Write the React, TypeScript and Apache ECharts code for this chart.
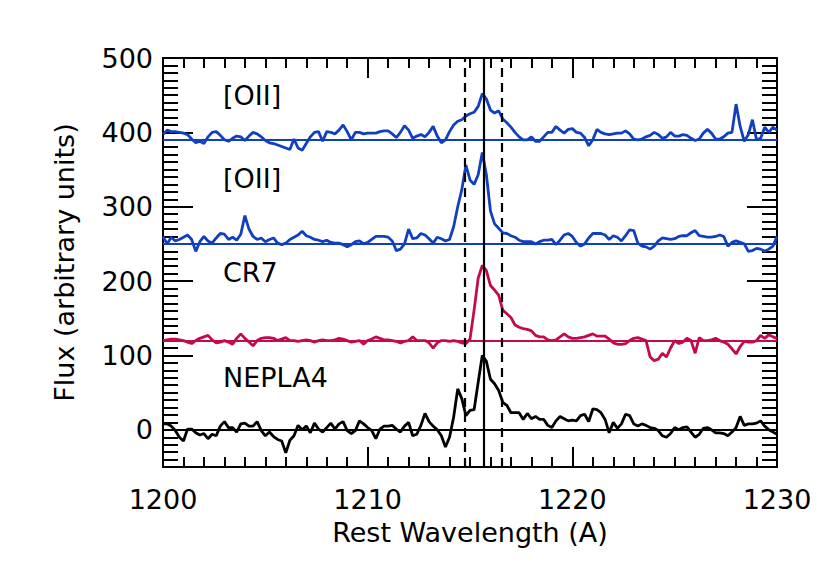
import React, { useEffect, useRef } from "react";
import * as echarts from "echarts";

// Wavelength sampling of the spectra (Angstrom)
const WL_START = 1200;
const WL_STEP = 0.2;

// Axis ticks
const X_MIN = 1200;
const X_MAX = 1230;
const Y_MIN = -50;
const Y_MAX = 500;
const Y_MAJOR = [0, 100, 200, 300, 400, 500];

// Baselines (continuum levels / offsets)
const BASE_OII_A = 390;
const BASE_OII_B = 250;
const BASE_CR7 = 120;
const BASE_NEPLA4 = 0;

// Reference lines (rest wavelength Ly-alpha and +/- window)
const LYA = 1215.67;
const WIN_LO = 1214.75;
const WIN_HI = 1216.55;

// Spectra (flux, arbitrary units), one value every WL_STEP from WL_START
const oiiA = [
  397, 403, 401, 401, 400, 399, 397, 391, 386, 388, 385, 394, 400, 401, 396, 390, 388, 392, 395, 394,
  389, 395, 400, 398, 394, 389, 386, 385, 383, 381, 379, 377, 391, 379, 376, 385, 394, 400, 401, 388,
  401, 400, 398, 403, 410, 401, 390, 400, 400, 398,
  399, 399, 399, 401, 402, 402, 398, 393, 400, 409, 403, 392, 395, 397, 394, 400, 408, 395, 386, 390,
  401, 410, 415, 417, 422, 425, 427, 435, 452, 445, 430, 426, 429, 418, 413, 407, 400, 394, 390, 390,
  394, 388, 388, 394, 400, 400, 408, 403, 399, 404,
  405, 400, 399, 393, 382, 390, 404, 400, 398, 397, 398, 399, 399, 402, 398, 391, 390, 391, 394, 396,
  400, 397, 392, 394, 400, 395, 395, 397, 396, 392, 389, 391, 399, 404, 399, 391, 391, 394, 399, 400,
  438, 408, 388, 397, 417, 390, 392, 407, 400, 407, 403,
];

const oiiB = [
  260, 250, 259, 254, 256, 259, 262, 256, 240, 253, 260, 254, 251, 258, 264, 263, 256, 259, 255, 263,
  288, 270, 260, 256, 258, 253, 256, 258, 251, 249, 251, 256, 259, 262, 267, 261, 259, 256, 255, 253,
  255, 252, 251, 251, 249, 246, 249, 253, 254, 250,
  252, 256, 260, 260, 260, 259, 254, 241, 243, 250, 270, 257, 258, 264, 262, 257, 251, 259, 257, 254,
  256, 273, 300, 323, 356, 336, 330, 343, 373, 343, 294, 277, 271, 265, 264, 261, 259, 255, 253, 253,
  253, 250, 253, 255, 255, 256, 249, 255, 262, 264,
  260, 252, 247, 250, 258, 264, 264, 264, 262, 256, 261, 259, 254, 261, 269, 268, 251, 247, 246, 243,
  247, 254, 258, 257, 256, 257, 260, 261, 261, 265, 268, 261, 260, 259, 259, 260, 262, 260, 247, 252,
  254, 252, 250, 240, 241, 244, 243, 240, 243, 247, 260,
];

const cr7 = [
  120, 121, 122, 122, 121, 120, 118, 116, 120, 123, 125, 127, 121, 117, 118, 120, 118, 115, 123, 129,
  123, 118, 113, 120, 123, 124, 124, 123, 120, 122, 124, 120, 120, 119, 120, 121, 120, 118, 120, 121,
  120, 120, 121, 123, 122, 120, 118, 119, 120, 115,
  120, 122, 125, 123, 121, 121, 120, 119, 117, 119, 120, 125, 120, 120, 120, 117, 110, 117, 120, 120,
  119, 120, 119, 117, 116, 122, 161, 204, 221, 214, 194, 188, 181, 161, 156, 151, 141, 138, 136, 135,
  133, 127, 125, 125, 121, 120, 121, 125, 129, 125,
  123, 123, 124, 125, 127, 129, 126, 126, 126, 122, 117, 115, 115, 116, 120, 123, 124, 122, 120, 98,
  93, 95, 103, 98, 110, 120, 116, 118, 123, 120, 103, 124, 120, 120, 121, 123, 120, 118, 115, 109,
  102, 112, 119, 118, 118, 120, 127, 123, 128, 125, 123,
];

const nepla4 = [
  8, 8, 5, -1, -10, -15, 1, 1, -4, -7, -5, -12, -6, -8, 5, 11, 3, 3, -3, 8,
  9, 5, 5, 11, -1, -8, -3, -9, -13, -15, -31, -14, -8, 6, 0, 5, -4, 9, 1, -3,
  3, 9, 1, 8, 11, -1, -5, -1, 12, 8,
  3, -1, -12, 1, 5, 5, 6, 1, -3, 5, 10, -8, -6, 6, 22, 11, 5, 0, -8, -23,
  -10, 17, 55, 42, 19, 26, 27, 64, 100, 92, 68, 62, 53, 37, 33, 23, 23, 23, 14, 22,
  15, 18, 14, 14, 6, 3, 12, 18, 15, 12,
  13, 12, 19, 21, 11, 28, 27, 23, 14, -4, 10, 2, 8, 21, 19, 8, 5, 8, 6, 3,
  2, -1, -8, -10, -5, 3, 0, 3, 4, -3, -10, -6, 2, 3, 0, -4, -4, -5, -8, -3,
  3, 18, 6, 8, 8, 9, 12, 5, 0, -3, -6,
];

const LABELS = ["[OII]", "[OII]", "CR7", "NEPLA4"];

const BLUE = "#1040c0";
const RED = "#c40a4e";
const BLACK = "#000000";
const FONT = "DejaVu Sans";

export default function App() {
  const ref = useRef<HTMLDivElement>(null);

  useEffect(() => {
    const chart = echarts.init(ref.current!, null, { renderer: "svg" });

    const toPairs = (vals: number[]) =>
      vals.map((v, i) => [Math.round((WL_START + i * WL_STEP) * 10) / 10, v]);

    const yMinor: number[] = [];
    for (let v = Y_MIN; v <= Y_MAX; v += 10) yMinor.push(v);

    const axisLine = { show: true, onZero: false, lineStyle: { color: BLACK, width: 2 } };
    const textStyle = { color: BLACK, fontSize: 27, fontFamily: FONT };

    const xCommon = {
      type: "value" as const,
      min: X_MIN,
      max: X_MAX,
      interval: 10,
      axisLine,
      axisTick: { show: true, inside: true, length: 20, lineStyle: { color: BLACK, width: 2 } },
      minorTick: { show: true, splitNumber: 10, length: 10, lineStyle: { color: BLACK, width: 2 } },
      splitLine: { show: false },
      minorSplitLine: { show: false },
    };

    const yMajorAxis = (pos: "left" | "right", labels: boolean) => ({
      type: "value" as const,
      position: pos,
      min: Y_MIN,
      max: Y_MAX,
      axisLine,
      axisTick: {
        show: true,
        inside: true,
        length: 30,
        customValues: Y_MAJOR,
        lineStyle: { color: BLACK, width: 2 },
      },
      axisLabel: labels
        ? { show: true, customValues: Y_MAJOR, margin: 10, padding: [5, 0, 0, 0], ...textStyle }
        : { show: false },
      splitLine: { show: false },
    });

    const yMinorAxis = (pos: "left" | "right") => ({
      type: "value" as const,
      position: pos,
      min: Y_MIN,
      max: Y_MAX,
      axisLine: { show: false, onZero: false },
      axisTick: {
        show: true,
        inside: true,
        length: 15,
        customValues: yMinor,
        lineStyle: { color: BLACK, width: 2 },
      },
      axisLabel: { show: false },
      splitLine: { show: false },
    });

    const baseline = (value: number, color: string) => ({
      silent: true,
      symbol: ["none", "none"],
      label: { show: false },
      lineStyle: { color, width: 2.2, type: "solid" },
      data: [{ yAxis: value }],
    });

    const lineSeries = (name: string, vals: number[], color: string, base: number) => ({
      type: "line",
      name,
      data: toPairs(vals),
      xAxisIndex: 0,
      yAxisIndex: 0,
      showSymbol: false,
      symbol: "none",
      lineStyle: { color, width: 2.8 },
      itemStyle: { color },
      markLine: baseline(base, color),
      z: 3,
    });

    const nepla = lineSeries("NEPLA4", nepla4, BLACK, BASE_NEPLA4) as any;
    nepla.markLine = {
      silent: true,
      symbol: ["none", "none"],
      label: { show: false },
      lineStyle: { color: BLACK, width: 2.2, type: "solid" },
      data: [
        { yAxis: BASE_NEPLA4 },
        { xAxis: LYA, lineStyle: { color: BLACK, width: 2.2, type: "solid" } },
        { xAxis: WIN_LO, lineStyle: { color: BLACK, width: 2.2, type: [9, 6] } },
        { xAxis: WIN_HI, lineStyle: { color: BLACK, width: 2.2, type: [9, 6] } },
      ],
    };

    const labelText = (text: string, y: number) => ({
      type: "text",
      x: 223,
      y,
      style: {
        text,
        fill: BLACK,
        fontSize: 27,
        fontFamily: FONT,
        align: "left",
        verticalAlign: "middle",
      },
    });

    chart.setOption({
      animation: false,
      backgroundColor: "#ffffff",
      grid: { left: 163, right: 40, top: 58, bottom: 117, containLabel: false },
      xAxis: [
        {
          ...xCommon,
          position: "bottom",
          axisLabel: {
            show: true,
            margin: 19,
            formatter: (v: number) => String(v),
            ...textStyle,
          },
          name: "Rest Wavelength (A)",
          nameLocation: "middle",
          nameGap: 52,
          nameTextStyle: { ...textStyle },
        },
        { ...xCommon, position: "top", axisLabel: { show: false } },
      ],
      yAxis: [
        {
          ...yMajorAxis("left", true),
          name: "Flux (arbitrary units)",
          nameLocation: "middle",
          nameGap: 85,
          nameTextStyle: { ...textStyle },
        },
        yMajorAxis("right", false),
        yMinorAxis("left"),
        yMinorAxis("right"),
      ],
      graphic: [
        labelText(LABELS[0], 95),
        labelText(LABELS[1], 178),
        labelText(LABELS[2], 272),
        labelText(LABELS[3], 377),
      ],
      series: [
        lineSeries("[OII] a", oiiA, BLUE, BASE_OII_A),
        lineSeries("[OII] b", oiiB, BLUE, BASE_OII_B),
        lineSeries("CR7", cr7, RED, BASE_CR7),
        nepla,
      ],
    });

    return () => chart.dispose();
  }, []);

  return (
    <div
      ref={ref}
      style={{ position: "fixed", left: 0, top: 0, width: 817, height: 584, background: "#fff" }}
    />
  );
}
